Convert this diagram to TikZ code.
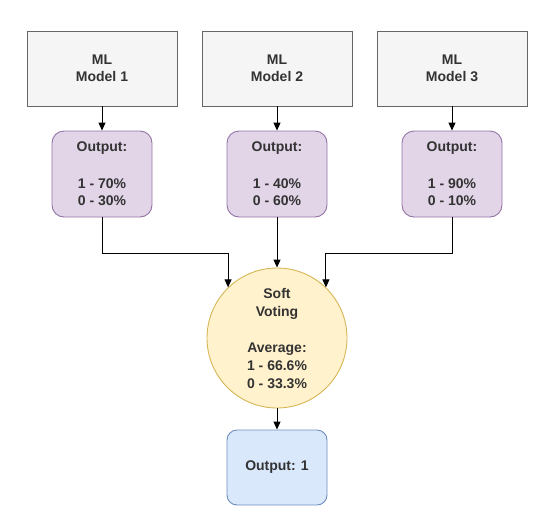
\documentclass[tikz,border=0pt]{standalone}
\usepackage{fontspec}
\setmainfont{Liberation Sans}
\usetikzlibrary{arrows.meta,calc}
\definecolor{txt}{HTML}{333333}
\definecolor{grayfill}{HTML}{F5F5F5}
\definecolor{graydraw}{HTML}{666666}
\definecolor{purfill}{HTML}{E1D5E7}
\definecolor{purdraw}{HTML}{9673A6}
\definecolor{yelfill}{HTML}{FFF2CC}
\definecolor{yeldraw}{HTML}{D6B656}
\definecolor{blufill}{HTML}{DAE8FC}
\definecolor{bludraw}{HTML}{6C8EBF}
\tikzset{
  base/.style={text=txt, font=\fontsize{14}{17}\selectfont\bfseries, align=center, inner sep=0pt, line width=0.9pt},
  modelbox/.style={base, draw=graydraw, fill=grayfill, minimum width=150pt, minimum height=75pt},
  probbox/.style={base, draw=purdraw, fill=purfill, rounded corners=12pt, minimum width=100pt, minimum height=86pt},
  votecircle/.style={base, circle, draw=yeldraw, fill=yelfill, minimum size=140pt, font=\fontsize{14}{18}\selectfont\bfseries},
  finalbox/.style={base, draw=bludraw, fill=blufill, rounded corners=10pt, minimum width=100pt, minimum height=75pt},
  arr/.style={-{Triangle[length=8pt,width=7pt]}, line width=1pt, black}
}
\begin{document}
\begin{tikzpicture}[x=1pt,y=-1pt]
\useasboundingbox (0,0) rectangle (545,514);
\node[modelbox] (m1) at (102,68.5) {ML\\Model 1};
\node[modelbox] (m2) at (277,68.5) {ML\\Model 2};
\node[modelbox] (m3) at (452,68.5) {ML\\Model 3};
\node[probbox] (o1) at (102,174) {Output:\\[20pt]1 - 70\%\\0 - 30\%};
\node[probbox] (o2) at (277,174) {Output:\\[20pt]1 - 40\%\\0 - 60\%};
\node[probbox] (o3) at (452,174) {Output:\\[20pt]1 - 90\%\\0 - 10\%};
\node[votecircle] (c) at (277,338) {Soft\\Voting\\[18pt]Average:\\1 - 66.6\%\\0 - 33.3\%};
\node[finalbox] (f) at (277,467.5) {Output: 1};
\coordinate (bus) at (0,253);
\draw[arr] (m1.south) -- (o1.north);
\draw[arr] (m2.south) -- (o2.north);
\draw[arr] (m3.south) -- (o3.north);
\draw[arr] (o1.south) |- (bus -| c.134) -- (c.134);
\draw[arr] (o2.south) -- (c.north);
\draw[arr] (o3.south) |- (bus -| c.46) -- (c.46);
\draw[arr] (c.south) -- (f.north);
\end{tikzpicture}
\end{document}
